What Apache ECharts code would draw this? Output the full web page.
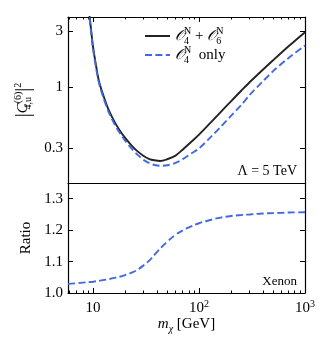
<!DOCTYPE html>
<html><head><meta charset="utf-8">
<script src="https://cdn.jsdelivr.net/npm/echarts@6/dist/echarts.min.js"></script>
<style>html,body{margin:0;padding:0;background:#fff}#c{width:319px;height:351px}</style>
</head><body><div id="c"></div>
<script>
// ---- data ----
const massTop = [8.5, 9, 9.2, 9.6, 10, 11, 11.5, 12.5, 14, 16, 18, 20, 23, 26, 30, 34, 38, 43, 50, 60, 70, 85, 100, 130, 160, 200, 250, 300, 400, 500, 700, 1000];
const coefO4O6 = [7.5, 5.0, 4.3, 3.05, 2.2, 1.30, 1.08, 0.85, 0.64, 0.50, 0.42, 0.368, 0.316, 0.283, 0.256, 0.241, 0.235, 0.232, 0.24, 0.258, 0.29, 0.34, 0.39, 0.50, 0.61, 0.755, 0.93, 1.10, 1.41, 1.70, 2.24, 2.96];
const coefO4Only = [7.25, 4.83, 4.15, 2.94, 2.12, 1.25, 1.04, 0.815, 0.613, 0.477, 0.399, 0.348, 0.297, 0.264, 0.237, 0.222, 0.214, 0.211, 0.213, 0.223, 0.24, 0.27, 0.297, 0.375, 0.455, 0.565, 0.70, 0.855, 1.12, 1.37, 1.78, 2.27];
const massRatio = [5.8, 7, 8, 10, 13, 16, 20, 25, 30, 35, 40, 45, 50, 60, 70, 80, 100, 130, 160, 200, 250, 300, 400, 500, 700, 1000];
const ratioValues = [1.029, 1.031, 1.033, 1.036, 1.042, 1.048, 1.057, 1.070, 1.088, 1.108, 1.130, 1.148, 1.163, 1.185, 1.199, 1.209, 1.222, 1.233, 1.240, 1.245, 1.248, 1.250, 1.253, 1.254, 1.256, 1.257];
const seriesNames = ['O4N + O6N', 'O4N only'];
const xMajorTicks = [10, 100, 1000];
const xMinorTicks = [6, 7, 8, 9, 20, 30, 40, 50, 60, 70, 80, 90, 200, 300, 400, 500, 600, 700, 800, 900];
const yTopTicks = [0.3, 1, 3];
const yRatioTicks = [1.0, 1.1, 1.2, 1.3];

const SERIF = 'Liberation Serif';
const AXLINE = {show: true, lineStyle: {color: '#000', width: 1.2}};
const TICKSTYLE = {color: '#000', width: 1};
const X_MIN = 5.8, X_MAX = 1000;

function xAxisDef(grid, pos, opts) {
  return Object.assign({
    gridIndex: grid, type: 'log', logBase: 10, min: X_MIN, max: X_MAX, position: pos,
    axisLine: AXLINE, axisTick: {show: false}, axisLabel: {show: false}, splitLine: {show: false}
  }, opts);
}
const mathRich = {
  t: {fontFamily: SERIF, fontSize: 15, color: '#000', lineHeight: 20},
  i: {fontFamily: SERIF, fontSize: 15, fontStyle: 'italic', color: '#000', lineHeight: 20},
  bar: {fontFamily: SERIF, fontSize: 20, color: '#000', lineHeight: 20},
  sb: {fontFamily: SERIF, fontSize: 10, fontStyle: 'italic', color: '#000', lineHeight: 9, verticalAlign: 'bottom'},
  sb0: {fontFamily: SERIF, fontSize: 10, color: '#000', lineHeight: 9, verticalAlign: 'bottom', width: 0},
  sp: {fontFamily: SERIF, fontSize: 10, color: '#000', lineHeight: 9, verticalAlign: 'top'},
  o: {fontFamily: SERIF, fontSize: 15, fontStyle: 'italic', color: '#000', lineHeight: 20},
  s: {fontFamily: SERIF, fontSize: 10, color: '#000', lineHeight: 8, verticalAlign: 'top'},
  b: {fontFamily: SERIF, fontSize: 15, color: '#000', lineHeight: 18}
};
const legendCommon = {left: 139, itemWidth: 25, itemHeight: 12, selectedMode: false,
  itemStyle: {opacity: 0}, textStyle: {rich: mathRich}};

const chart = echarts.init(document.getElementById('c'), null, {renderer: 'canvas'});
chart.setOption({
  animation: false,
  backgroundColor: '#fff',
  grid: [
    {left: 68, right: 14, top: 17, height: 166},
    {left: 68, right: 14, top: 183, height: 110}
  ],
  legend: [
    Object.assign({data: [seriesNames[0]], top: 21,
     formatter: () => '{o|\u{1D4AA}}{sb0|4}{sp|N}{t| + }{o|\u{1D4AA}}{sb0|6}{sp|N}'}, legendCommon),
    Object.assign({data: [seriesNames[1]], top: 40,
     formatter: () => '{o|\u{1D4AA}}{sb0|4}{sp|N}{t|  only}'}, legendCommon)
  ],
  xAxis: [
    xAxisDef(0, 'bottom', {}),
    xAxisDef(0, 'top', {axisTick: {show: true, inside: true, length: 5, customValues: xMajorTicks, lineStyle: TICKSTYLE}}),
    xAxisDef(0, 'top', {axisLine: {show: false}, axisTick: {show: true, inside: true, length: 2.5, customValues: xMinorTicks, lineStyle: TICKSTYLE}}),
    xAxisDef(1, 'bottom', {
      axisTick: {show: true, inside: true, length: 5, customValues: xMajorTicks, lineStyle: TICKSTYLE},
      axisLabel: {show: true, customValues: xMajorTicks, margin: 6, color: '#000', fontFamily: SERIF, fontSize: 15,
        formatter: v => { const e = Math.round(Math.log10(v)); return e === 1 ? '{b|10}' : '{b|10}{s|' + e + '}'; },
        rich: mathRich},
      name: '{i|m}{sb|\u03C7}{t| [GeV]}', nameLocation: 'middle', nameGap: 21,
      nameTextStyle: {rich: mathRich}
    }),
    xAxisDef(1, 'bottom', {axisLine: {show: false}, axisTick: {show: true, inside: true, length: 2.5, customValues: xMinorTicks, lineStyle: TICKSTYLE}})
  ],
  yAxis: [
    {gridIndex: 0, type: 'log', logBase: 10, min: 0.15, max: 4, position: 'left',
     axisLine: AXLINE, splitLine: {show: false},
     axisTick: {show: true, inside: true, length: 5, customValues: yTopTicks, lineStyle: TICKSTYLE},
     axisLabel: {show: true, customValues: yTopTicks, margin: 5, color: '#000', fontFamily: SERIF, fontSize: 15,
       formatter: v => String(+(+v).toPrecision(3))},
     name: '{bar||}{i|C}{sb0|4,u}{sp|(6)}{bar||}{sp|2}', nameLocation: 'middle', nameGap: 33, nameRotate: 90,
     nameTextStyle: {rich: mathRich}},
    {gridIndex: 0, type: 'log', logBase: 10, min: 0.15, max: 4, position: 'right',
     axisLine: AXLINE, splitLine: {show: false}, axisLabel: {show: false},
     axisTick: {show: true, inside: true, length: 5, customValues: yTopTicks, lineStyle: TICKSTYLE}},
    {gridIndex: 1, type: 'value', min: 1.0, max: 1.35, position: 'left',
     axisLine: AXLINE, splitLine: {show: false},
     axisTick: {show: true, inside: true, length: 5, customValues: yRatioTicks, lineStyle: TICKSTYLE},
     axisLabel: {show: true, customValues: yRatioTicks, margin: 5, color: '#000', fontFamily: SERIF, fontSize: 15,
       formatter: v => (+v).toFixed(1)},
     name: 'Ratio', nameLocation: 'middle', nameGap: 34, nameRotate: 90,
     nameTextStyle: {color: '#000', fontFamily: SERIF, fontSize: 15}},
    {gridIndex: 1, type: 'value', min: 1.0, max: 1.35, position: 'right',
     axisLine: AXLINE, splitLine: {show: false}, axisLabel: {show: false},
     axisTick: {show: true, inside: true, length: 5, customValues: yRatioTicks, lineStyle: TICKSTYLE}}
  ],
  series: [
    {type: 'line', name: seriesNames[0], xAxisIndex: 0, yAxisIndex: 0,
     data: massTop.map((m, i) => [m, coefO4O6[i]]),
     symbol: 'none', showSymbol: false, smooth: 0.3, clip: true, z: 3,
     lineStyle: {color: '#222', width: 1.9}, itemStyle: {color: '#222'}},
    {type: 'line', name: seriesNames[1], xAxisIndex: 0, yAxisIndex: 0,
     data: massTop.map((m, i) => [m, coefO4Only[i]]),
     symbol: 'none', showSymbol: false, smooth: 0.3, clip: true, z: 4,
     lineStyle: {color: '#4169e1', width: 1.9, type: [7, 3.4]}, itemStyle: {color: '#4169e1'}},
    {type: 'line', name: 'Ratio', xAxisIndex: 3, yAxisIndex: 2,
     data: massRatio.map((m, i) => [m, ratioValues[i]]),
     symbol: 'none', showSymbol: false, smooth: 0.4, clip: true, z: 4,
     lineStyle: {color: '#4169e1', width: 1.9, type: [7, 3.4]}, itemStyle: {color: '#4169e1'}}
  ],
  graphic: [
    {type: 'text', right: 22, top: 164, style: {text: '\u039B = 5 TeV', font: '14px "Liberation Serif"', fill: '#000'}},
    {type: 'text', right: 22, top: 275, style: {text: 'Xenon', font: '13px "Liberation Serif"', fill: '#000'}}
  ]
});
</script>
</body></html>
